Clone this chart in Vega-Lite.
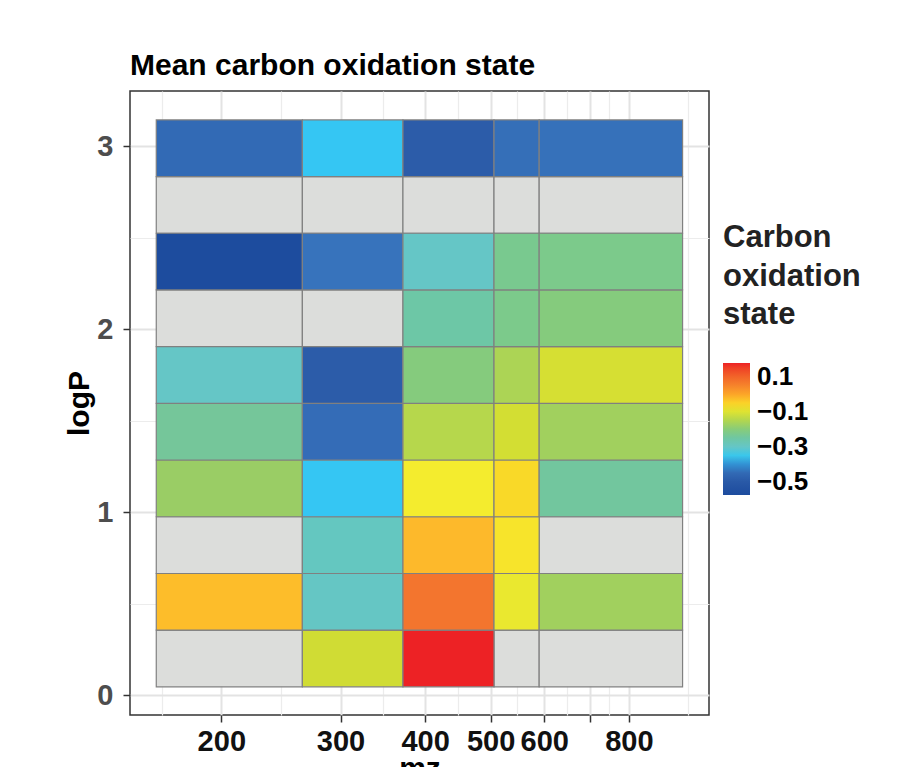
{
  "$schema": "https://vega.github.io/schema/vega-lite/v6.json",
  "width": 579,
  "height": 624,
  "autosize": {"type": "none"},
  "padding": {"left": 130, "top": 91, "right": 188, "bottom": 52},
  "background": "white",
  "title": {"text": "Mean carbon oxidation state", "anchor": "start", "frame": "group", "font": "Liberation Sans", "fontSize": 30, "fontWeight": "bold", "color": "#000000", "baseline": "alphabetic", "offset": -14},
  "config": {"view": {"stroke": "#333333", "strokeWidth": 1.5}, "font": "Liberation Sans"},
  "datasets": {
    "tiles": [
      {"mz1": 160.3, "mz2": 263.5, "lp1": 0.047, "lp2": 0.357, "ox": null},
      {"mz1": 263.5, "mz2": 371.0, "lp1": 0.047, "lp2": 0.357, "ox": -0.12},
      {"mz1": 371.0, "mz2": 505.7, "lp1": 0.047, "lp2": 0.357, "ox": 0.178},
      {"mz1": 505.7, "mz2": 589.7, "lp1": 0.047, "lp2": 0.357, "ox": null},
      {"mz1": 589.7, "mz2": 960.5, "lp1": 0.047, "lp2": 0.357, "ox": null},
      {"mz1": 160.3, "mz2": 263.5, "lp1": 0.357, "lp2": 0.666, "ox": -0.033},
      {"mz1": 263.5, "mz2": 371.0, "lp1": 0.357, "lp2": 0.666, "ox": -0.297},
      {"mz1": 371.0, "mz2": 505.7, "lp1": 0.357, "lp2": 0.666, "ox": 0.07},
      {"mz1": 505.7, "mz2": 589.7, "lp1": 0.357, "lp2": 0.666, "ox": -0.083},
      {"mz1": 589.7, "mz2": 960.5, "lp1": 0.357, "lp2": 0.666, "ox": -0.17},
      {"mz1": 160.3, "mz2": 263.5, "lp1": 0.666, "lp2": 0.976, "ox": null},
      {"mz1": 263.5, "mz2": 371.0, "lp1": 0.666, "lp2": 0.976, "ox": -0.29},
      {"mz1": 371.0, "mz2": 505.7, "lp1": 0.666, "lp2": 0.976, "ox": -0.03},
      {"mz1": 505.7, "mz2": 589.7, "lp1": 0.666, "lp2": 0.976, "ox": -0.064},
      {"mz1": 589.7, "mz2": 960.5, "lp1": 0.666, "lp2": 0.976, "ox": null},
      {"mz1": 160.3, "mz2": 263.5, "lp1": 0.976, "lp2": 1.286, "ox": -0.18},
      {"mz1": 263.5, "mz2": 371.0, "lp1": 0.976, "lp2": 1.286, "ox": -0.36},
      {"mz1": 371.0, "mz2": 505.7, "lp1": 0.976, "lp2": 1.286, "ox": -0.07},
      {"mz1": 505.7, "mz2": 589.7, "lp1": 0.976, "lp2": 1.286, "ox": -0.055},
      {"mz1": 589.7, "mz2": 960.5, "lp1": 0.976, "lp2": 1.286, "ox": -0.245},
      {"mz1": 160.3, "mz2": 263.5, "lp1": 1.286, "lp2": 1.595, "ox": -0.24},
      {"mz1": 263.5, "mz2": 371.0, "lp1": 1.286, "lp2": 1.595, "ox": -0.445},
      {"mz1": 371.0, "mz2": 505.7, "lp1": 1.286, "lp2": 1.595, "ox": -0.146},
      {"mz1": 505.7, "mz2": 589.7, "lp1": 1.286, "lp2": 1.595, "ox": -0.115},
      {"mz1": 589.7, "mz2": 960.5, "lp1": 1.286, "lp2": 1.595, "ox": -0.17},
      {"mz1": 160.3, "mz2": 263.5, "lp1": 1.595, "lp2": 1.905, "ox": -0.30},
      {"mz1": 263.5, "mz2": 371.0, "lp1": 1.595, "lp2": 1.905, "ox": -0.48},
      {"mz1": 371.0, "mz2": 505.7, "lp1": 1.595, "lp2": 1.905, "ox": -0.205},
      {"mz1": 505.7, "mz2": 589.7, "lp1": 1.595, "lp2": 1.905, "ox": -0.157},
      {"mz1": 589.7, "mz2": 960.5, "lp1": 1.595, "lp2": 1.905, "ox": -0.111},
      {"mz1": 160.3, "mz2": 263.5, "lp1": 1.905, "lp2": 2.215, "ox": null},
      {"mz1": 263.5, "mz2": 371.0, "lp1": 1.905, "lp2": 2.215, "ox": null},
      {"mz1": 371.0, "mz2": 505.7, "lp1": 1.905, "lp2": 2.215, "ox": -0.255},
      {"mz1": 505.7, "mz2": 589.7, "lp1": 1.905, "lp2": 2.215, "ox": -0.22},
      {"mz1": 589.7, "mz2": 960.5, "lp1": 1.905, "lp2": 2.215, "ox": -0.205},
      {"mz1": 160.3, "mz2": 263.5, "lp1": 2.215, "lp2": 2.525, "ox": -0.576},
      {"mz1": 263.5, "mz2": 371.0, "lp1": 2.215, "lp2": 2.525, "ox": -0.43},
      {"mz1": 371.0, "mz2": 505.7, "lp1": 2.215, "lp2": 2.525, "ox": -0.30},
      {"mz1": 505.7, "mz2": 589.7, "lp1": 2.215, "lp2": 2.525, "ox": -0.225},
      {"mz1": 589.7, "mz2": 960.5, "lp1": 2.215, "lp2": 2.525, "ox": -0.22},
      {"mz1": 160.3, "mz2": 263.5, "lp1": 2.525, "lp2": 2.834, "ox": null},
      {"mz1": 263.5, "mz2": 371.0, "lp1": 2.525, "lp2": 2.834, "ox": null},
      {"mz1": 371.0, "mz2": 505.7, "lp1": 2.525, "lp2": 2.834, "ox": null},
      {"mz1": 505.7, "mz2": 589.7, "lp1": 2.525, "lp2": 2.834, "ox": null},
      {"mz1": 589.7, "mz2": 960.5, "lp1": 2.525, "lp2": 2.834, "ox": null},
      {"mz1": 160.3, "mz2": 263.5, "lp1": 2.834, "lp2": 3.144, "ox": -0.45},
      {"mz1": 263.5, "mz2": 371.0, "lp1": 2.834, "lp2": 3.144, "ox": -0.36},
      {"mz1": 371.0, "mz2": 505.7, "lp1": 2.834, "lp2": 3.144, "ox": -0.48},
      {"mz1": 505.7, "mz2": 589.7, "lp1": 2.834, "lp2": 3.144, "ox": -0.44},
      {"mz1": 589.7, "mz2": 960.5, "lp1": 2.834, "lp2": 3.144, "ox": -0.435}
    ]
  },
  "layer": [
    {
      "data": {"name": "tiles"},
      "transform": [{"filter": "datum.ox == null"}],
      "mark": {"type": "rect", "fill": "#dcdddb", "stroke": "#808080", "strokeWidth": 1.2},
      "encoding": {
        "x": {"field": "mz1", "type": "quantitative", "scale": {"type": "log", "domain": [146.6, 1050.8], "nice": false},
              "axis": {"orient": "top", "values": [163.3, 244.9, 346.4, 447.2, 547.7, 648.1, 748.3, 979.9], "labels": false, "ticks": false, "domain": false, "grid": true, "gridColor": "#ececec", "gridWidth": 1.2, "title": null}},
        "x2": {"field": "mz2"},
        "y": {"field": "lp1", "type": "quantitative", "scale": {"domain": [-0.107, 3.302], "nice": false, "zero": false},
              "axis": {"orient": "right", "values": [0.5, 1.5, 2.5], "labels": false, "ticks": false, "domain": false, "grid": true, "gridColor": "#ececec", "gridWidth": 1.2, "title": null}},
        "y2": {"field": "lp2"}
      }
    },
    {
      "data": {"name": "tiles"},
      "transform": [{"filter": "datum.ox != null"}],
      "mark": {"type": "rect", "stroke": "#808080", "strokeWidth": 1.2},
      "encoding": {
        "x": {"field": "mz1", "type": "quantitative", "scale": {"type": "log", "domain": [146.6, 1050.8], "nice": false},
              "axis": {"orient": "bottom", "values": [200, 300, 400, 500, 600, 700, 800], "format": "d", "labelExpr": "datum.value == 700 ? '' : datum.label",
                       "domain": false, "grid": true, "gridColor": "#e3e3e3", "gridWidth": 2, "ticks": true, "tickColor": "#333333", "tickWidth": 1.5, "tickSize": 7,
                       "labelFont": "Liberation Sans", "labelFontSize": 29, "labelFontWeight": "bold", "labelColor": "#111111", "labelPadding": 5, "labelOverlap": false,
                       "title": "mz", "titleFont": "Liberation Sans", "titleFontSize": 30, "titleFontWeight": "bold", "titleColor": "#000000", "titlePadding": -3}},
        "x2": {"field": "mz2"},
        "y": {"field": "lp1", "type": "quantitative", "scale": {"domain": [-0.107, 3.302], "nice": false, "zero": false},
              "axis": {"orient": "left", "values": [0, 1, 2, 3], "format": "d", "domain": false, "grid": true, "gridColor": "#e3e3e3", "gridWidth": 2,
                       "ticks": true, "tickColor": "#333333", "tickWidth": 1.5, "tickSize": 7,
                       "labelFont": "Liberation Sans", "labelFontSize": 29, "labelFontWeight": "bold", "labelColor": "#4d4d4d", "labelPadding": 10,
                       "title": "logP", "titleFont": "Liberation Sans", "titleFontSize": 30, "titleFontWeight": "bold", "titleColor": "#000000", "titlePadding": 2}},
        "y2": {"field": "lp2"},
        "color": {
          "field": "ox", "type": "quantitative",
          "scale": {
            "domain": [-0.576, -0.48, -0.42, -0.36, -0.30, -0.24, -0.18, -0.12, -0.07, -0.03, 0.07, 0.178],
            "range": ["#1d4c9e", "#2c5ca9", "#3a78c0", "#35c6f3", "#65c6c6", "#75c69a", "#9acd65", "#d0dc34", "#f4ec2e", "#fdb92b", "#f3752e", "#ed2225"]
          },
          "legend": {
            "orient": "none", "legendX": 593, "legendY": 132,
            "title": ["Carbon", "oxidation", "state"], "titleFont": "Liberation Sans", "titleFontSize": 31, "titleFontWeight": "bold", "titleColor": "#222222", "titleLineHeight": 38.5, "titlePadding": 32,
            "gradientLength": 132, "gradientThickness": 27, "gradientStrokeWidth": 0,
            "values": [0.1, -0.1, -0.3, -0.5], "format": ".1f",
            "labelFont": "Liberation Sans", "labelFontSize": 26, "labelFontWeight": "bold", "labelColor": "#000000", "labelOffset": 7
          }
        }
      }
    }
  ],
  "resolve": {"axis": {"x": "independent", "y": "independent"}}
}
